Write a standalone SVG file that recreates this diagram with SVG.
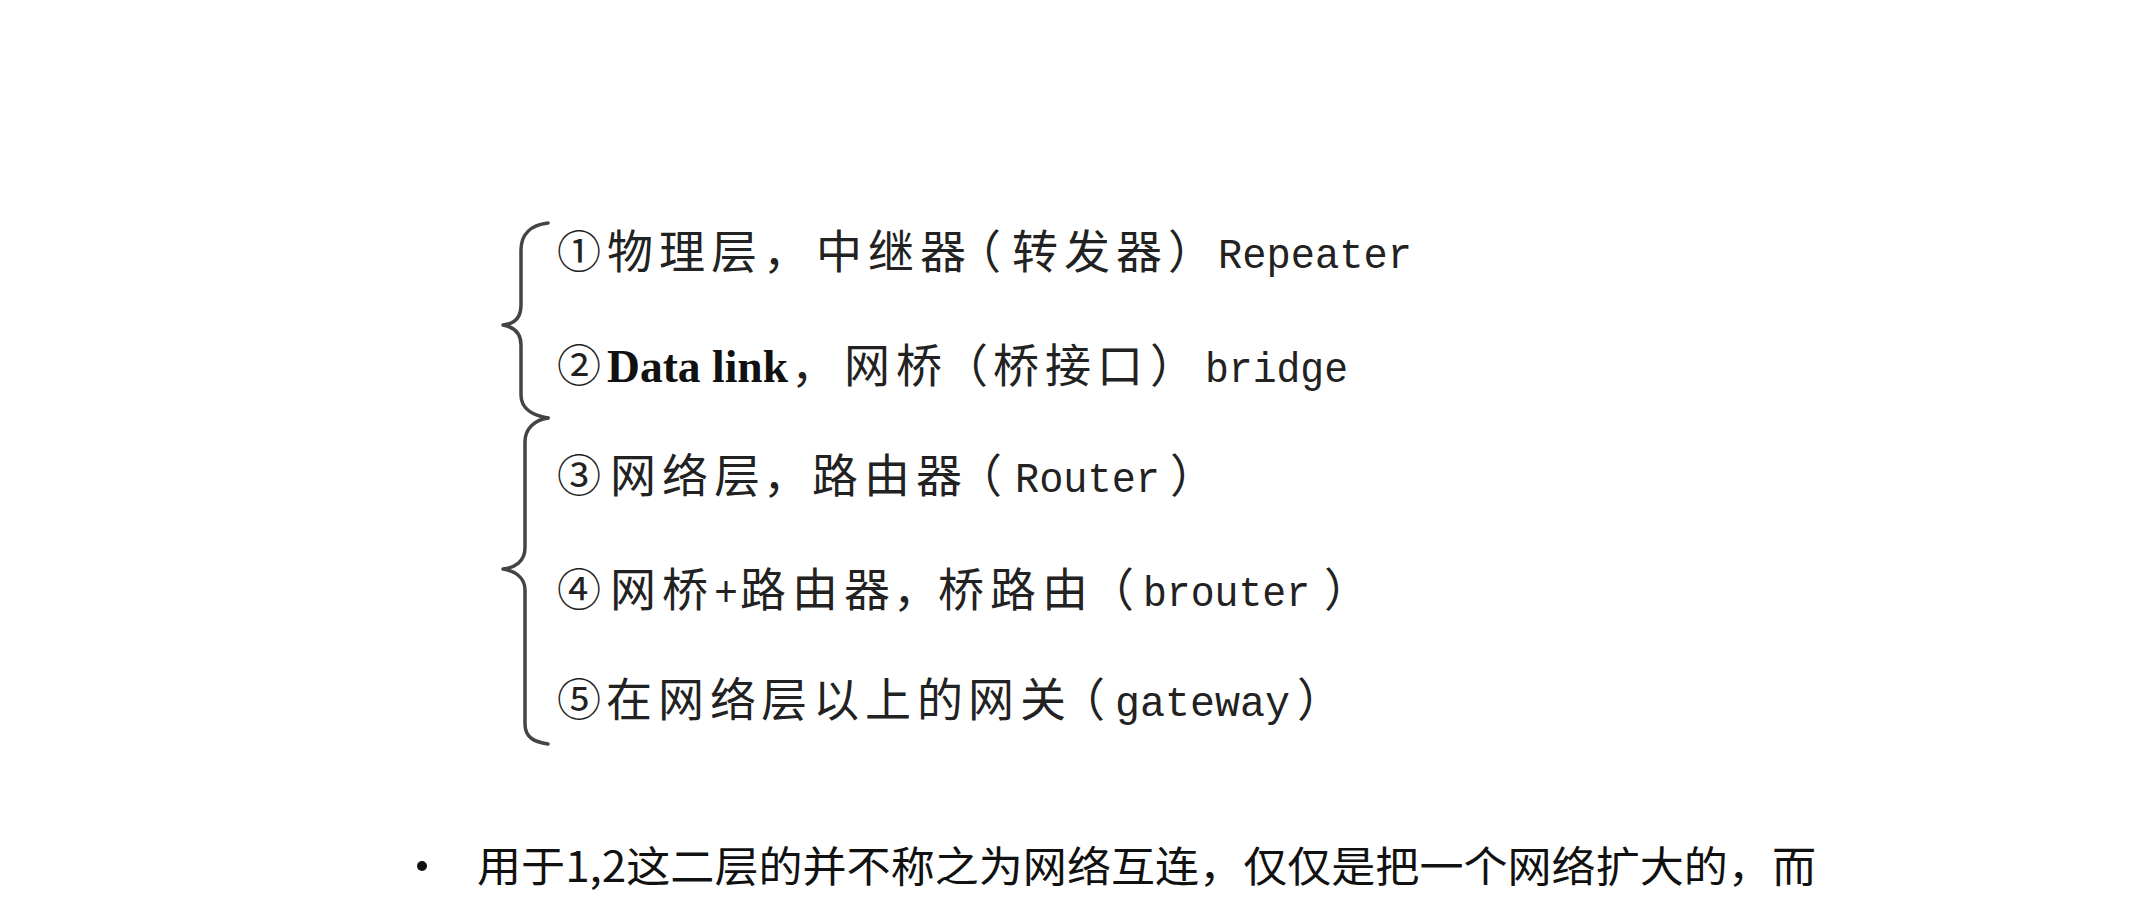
<svg xmlns="http://www.w3.org/2000/svg" width="2149" height="900" viewBox="0 0 2149 900">
<style>
.ln{font-family:"Noto Sans CJK SC","Noto Sans",sans-serif;font-size:46px;fill:#222}
.num{font-size:44px}
.la{font-family:"Liberation Mono","DejaVu Sans Mono",monospace;font-size:43px}
.bd{font-family:"Liberation Serif","Noto Sans CJK SC",serif;font-size:46px;font-weight:bold;fill:#111}
.bt{font-family:"Noto Sans CJK SC",sans-serif;font-size:42px;fill:#111}
.br{fill:none;stroke:#444;stroke-width:3.5;stroke-linecap:round;stroke-linejoin:round}
</style>
<rect width="2149" height="900" fill="#fff"/>
<g id="braces">
<path class="br" d="M548,223 C530,225 521,235 521,250 L521,305 C521,318 514,324 503,325 C514,327 521,333 521,345 L521,395 C521,410 535,416 548,418"/>
<path class="br" d="M548,418 C535,420 525,428 525,442 L525,548 C525,562 514,568 503,569 C514,571 525,577 525,590 L525,724 C525,738 535,742 548,744"/>
</g>
<g id="line1">
<text class="ln" y="268"><tspan class="num" x="557">①</tspan><tspan x="607 659 711 763 816 868 920 955 1012 1064 1116 1168">物理层，中继器（转发器）</tspan><tspan class="la" x="1218" textLength="194" lengthAdjust="spacingAndGlyphs">Repeater</tspan></text>
</g>
<g id="line2">
<text class="ln" y="382"><tspan class="num" x="557">②</tspan><tspan class="bd" x="607" textLength="181" lengthAdjust="spacingAndGlyphs">Data link</tspan><tspan x="791 844 896 942 993 1045 1097 1150">，网桥（桥接口）</tspan><tspan class="la" x="1205" textLength="143" lengthAdjust="spacingAndGlyphs">bridge</tspan></text>
</g>
<g id="line3">
<text class="ln" y="492"><tspan class="num" x="557">③</tspan><tspan x="610 662 714 763 812 864 916 956">网络层，路由器（</tspan><tspan class="la" x="1015" textLength="145" lengthAdjust="spacingAndGlyphs">Router</tspan><tspan x="1170">）</tspan></text>
</g>
<g id="line4">
<text class="ln" y="606"><tspan class="num" x="557">④</tspan><tspan x="610 662">网桥</tspan><tspan class="la" x="714" textLength="24" lengthAdjust="spacingAndGlyphs">+</tspan><tspan x="740 792 844 893 938 990 1042 1088">路由器，桥路由（</tspan><tspan class="la" x="1143" textLength="167" lengthAdjust="spacingAndGlyphs">brouter</tspan><tspan x="1324">）</tspan></text>
</g>
<g id="line5">
<text class="ln" y="716"><tspan class="num" x="557">⑤</tspan><tspan x="606 658 710 761 813 865 917 968 1020 1059">在网络层以上的网关（</tspan><tspan class="la" x="1115" textLength="175" lengthAdjust="spacingAndGlyphs">gateway</tspan><tspan x="1297">）</tspan></text>
</g>
<g id="bullet">
<circle cx="422" cy="866" r="5" fill="#111"/>
<text class="bt" x="477" y="882" textLength="1339" lengthAdjust="spacingAndGlyphs">用于1,2这二层的并不称之为网络互连，仅仅是把一个网络扩大的，而</text>
</g>
</svg>
